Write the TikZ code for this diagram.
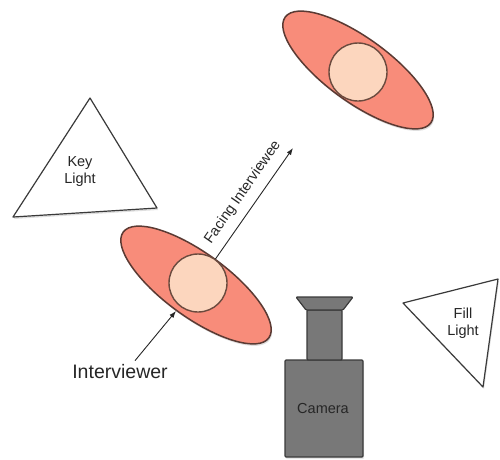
\documentclass[tikz,border=0pt]{standalone}
\usepackage{fontspec}
\setmainfont{Liberation Sans}
\usetikzlibrary{shapes.geometric,shadows,arrows.meta}
\definecolor{bodyfill}{HTML}{F88C7A}
\definecolor{bodyline}{HTML}{5B3A33}
\definecolor{headfill}{HTML}{FCD6BE}
\definecolor{headline}{HTML}{6A4A3E}
\definecolor{camfill}{HTML}{787878}
\definecolor{camline}{HTML}{3A3A3A}
\definecolor{txt}{HTML}{262626}
\tikzset{
  shad/.style={drop shadow={opacity=0.25,shadow xshift=1pt,shadow yshift=-2pt}},
  person/.style={ellipse,draw=bodyline,line width=1.5pt,fill=bodyfill,
    minimum width=180pt,minimum height=64pt,inner sep=0pt,rotate=-36,shad},
  head/.style={circle,draw=headline,line width=1.4pt,fill=headfill,
    minimum size=58pt,inner sep=0pt},
  lamp/.style={draw=camline,line width=1.2pt,fill=white,line join=round,shad},
  cam/.style={draw=camline,line width=1.2pt,fill=camfill,line join=round,rounded corners=1pt},
  lbl/.style={text=txt,font=\fontsize{14.5}{17}\selectfont,align=center,inner sep=0pt},
  arr/.style={draw=txt,line width=0.9pt,-{Latex[length=7pt,width=5pt]}}
}
\begin{document}
\begin{tikzpicture}[x=1pt,y=-1pt]
\useasboundingbox (0,0) rectangle (500,459);
% key light
\draw[lamp] (90,98) -- (157,208) -- (13,217) -- cycle;
\node[lbl] (key) at (80,172) {Key\\Light};
% fill light
\draw[lamp] (403,303) -- (498,279) -- (483,387) -- cycle;
\node[lbl] (fill) at (463,323) {Fill\\Light};
% interviewee
\node[person] (body2) at (358,70) {};
\node[head] (head2) at (358,72) {};
% interviewer
\node[person] (body1) at (196,285) {};
\node[head] (head1) at (198,283) {};
% camera
\draw[cam,drop shadow={opacity=0.2,shadow xshift=1pt,shadow yshift=-2pt}] (285,360) rectangle (363,457);
\draw[cam] (307,310) rectangle (342,360);
\draw[cam] (296,297) -- (353,297) -- (343,310) -- (306,310) -- cycle;
\node[lbl] (camera) at (323,408) {Camera};
% facing arrow
\coordinate (facetip) at (293,148);
\draw[arr] (head1.54.4) -- node[lbl,sloped,pos=0.52,above=8.5pt] (facing) {Facing Interviewee} (facetip);
% interviewer label
\node[lbl,font=\fontsize{19.5}{22}\selectfont] (intv) at (120,372) {Interviewer};
\coordinate (intvtip) at (176,311);
\draw[arr] ([xshift=15pt,yshift=4pt]intv.north) -- (intvtip);
\end{tikzpicture}
\end{document}
